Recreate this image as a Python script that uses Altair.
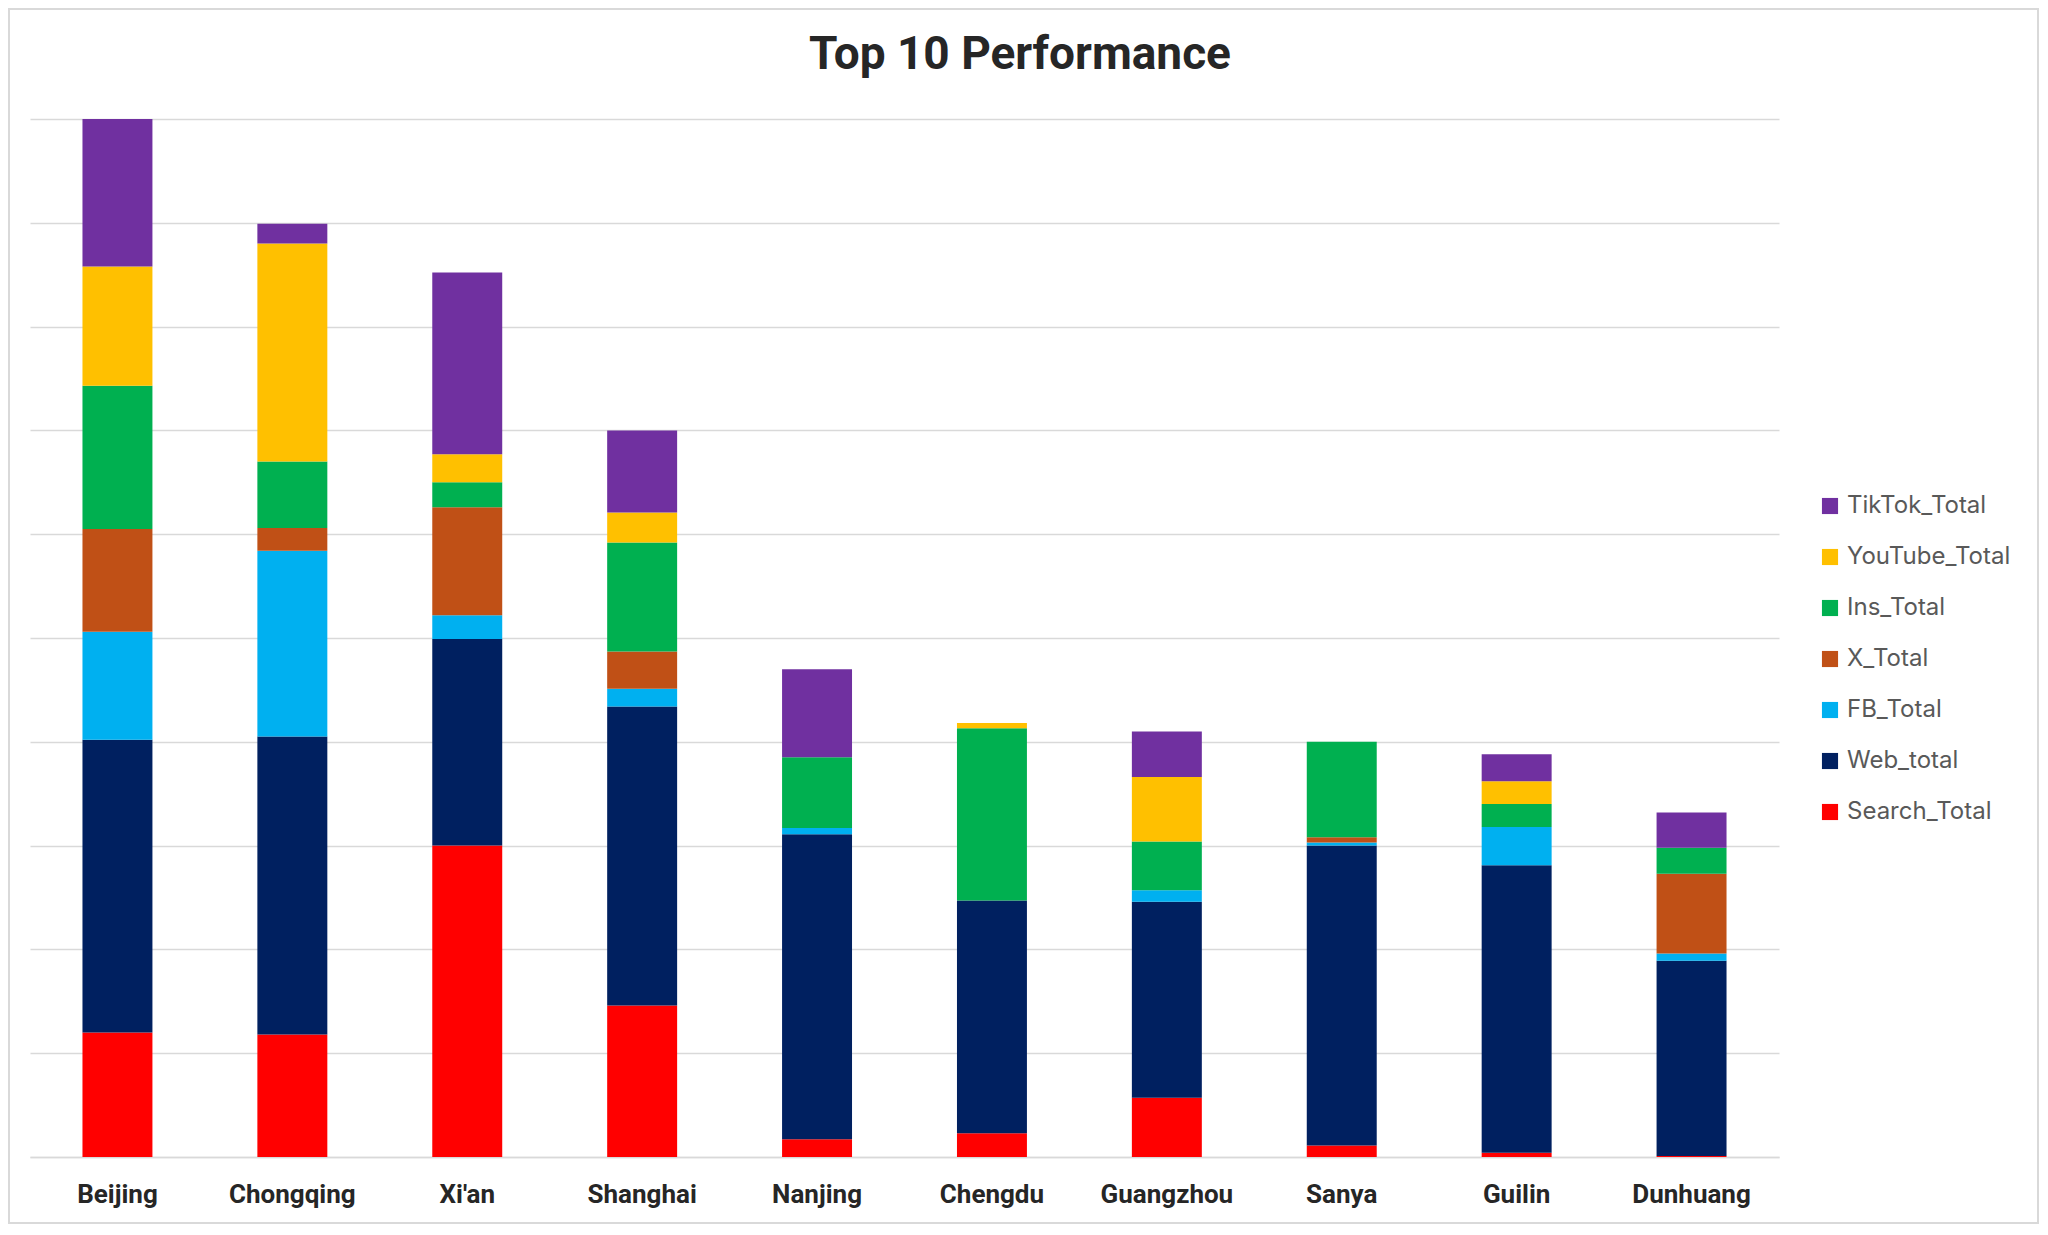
import altair as alt
import pandas as pd

cities = ["Beijing", "Chongqing", "Xi'an", "Shanghai", "Nanjing",
          "Chengdu", "Guangzhou", "Sanya", "Guilin", "Dunhuang"]

search_total = [1200, 1180, 3000, 1460, 170, 230, 570, 110, 40, 10]
web_total = [2820, 2870, 1990, 2880, 2940, 2240, 1890, 2890, 2770, 1880]
fb_total = [1040, 1790, 230, 170, 60, 0, 110, 30, 370, 70]
x_total = [990, 220, 1040, 360, 0, 0, 0, 50, 0, 770]
ins_total = [1380, 640, 240, 1050, 680, 1660, 470, 920, 220, 250]
youtube_total = [1150, 2100, 270, 290, 0, 50, 620, 0, 220, 0]
tiktok_total = [1420, 190, 1750, 790, 850, 0, 440, 0, 260, 340]

series_names = ["Search_Total", "Web_total", "FB_Total", "X_Total",
                "Ins_Total", "YouTube_Total", "TikTok_Total"]
series_values = [search_total, web_total, fb_total, x_total,
                 ins_total, youtube_total, tiktok_total]
series_colors = ["#FF0000", "#002060", "#00B0F0", "#C05016",
                 "#00B050", "#FFC000", "#7030A0"]

title_text = "Top 10 Performance"

rows = []
for idx, (name, vals) in enumerate(zip(series_names, series_values)):
    for city, v in zip(cities, vals):
        rows.append({"city": city, "series": name, "value": v, "stack": idx})
df = pd.DataFrame(rows)

legend_domain = list(reversed(series_names))
legend_range = list(reversed(series_colors))

bars = alt.Chart(df).mark_bar().encode(
    x=alt.X("city:N", sort=cities,
            scale=alt.Scale(paddingInner=0.6, paddingOuter=0.3),
            axis=alt.Axis(title=None, labelAngle=0, ticks=False, domain=True,
                          domainColor="#d9d9d9", domainWidth=1.5,
                          labelFont="Roboto", labelFontSize=26,
                          labelFontWeight="bold", labelColor="#262626",
                          labelPadding=24)),
    y=alt.Y("value:Q", stack="zero",
            scale=alt.Scale(domain=[0, 10000], nice=False),
            axis=alt.Axis(title=None, labels=False, ticks=False, domain=False,
                          values=[0, 1000, 2000, 3000, 4000, 5000, 6000, 7000,
                                  8000, 9000, 10000],
                          gridColor="#d9d9d9", gridWidth=1.5)),
    color=alt.Color("series:N",
                    scale=alt.Scale(domain=legend_domain, range=legend_range),
                    legend=alt.Legend(title=None, orient="none",
                                      legendX=1788, legendY=375,
                                      symbolType="square", symbolSize=260,
                                      symbolStrokeWidth=0,
                                      labelFont="Inter", labelFontSize=24,
                                      labelLimit=400,
                                      labelColor="#595959", rowPadding=27,
                                      labelOffset=5)),
    order=alt.Order("stack:Q", sort="ascending"),
)

title = alt.Chart(alt.Data(values=[{"t": title_text}])).mark_text(
    font="Roboto", fontSize=46, fontWeight="bold", color="#262626",
    align="center", baseline="middle"
).encode(
    text="t:N",
    x=alt.value(990),
    y=alt.value(-64),
)

border = alt.Chart(alt.Data(values=[{"a": 1}])).mark_rect(
    fillOpacity=0, stroke="#d9d9d9", strokeWidth=2
).encode(
    x=alt.value(-21), x2=alt.value(2008),
    y=alt.value(-110), y2=alt.value(1104),
)

chart = alt.layer(bars, title, border).properties(
    width=1749,
    height=1038,
    background="white",
    autosize=alt.AutoSizeParams(type="none"),
    padding={"left": 22, "top": 111, "right": 261, "bottom": 68},
).configure_view(stroke=None)

chart.save("out.html", embed_options={"renderer": "svg", "actions": False})
